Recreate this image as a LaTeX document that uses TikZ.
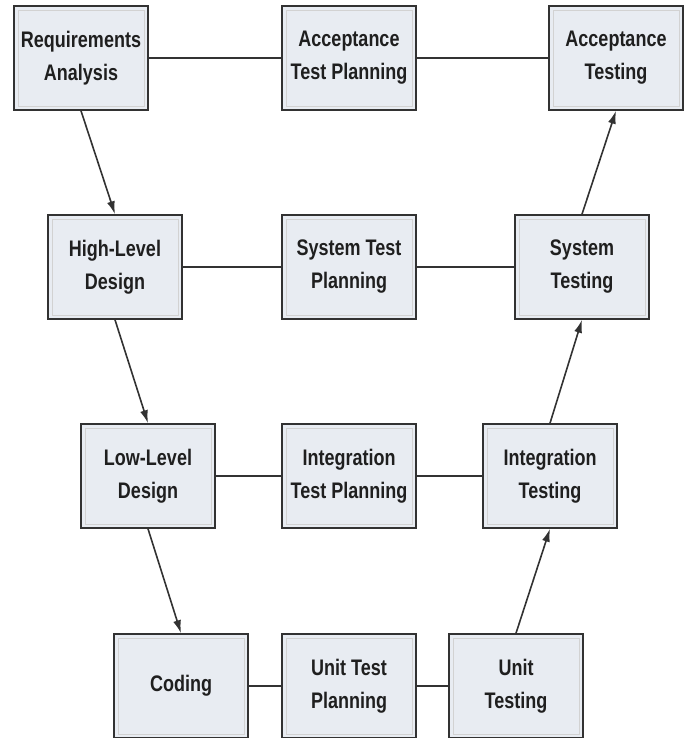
\documentclass[tikz,border=0pt]{standalone}
\usepackage{fontspec}
\newfontfamily\boxfont{Liberation Sans}[FakeStretch=0.8]
\usepackage{tikz}
\usetikzlibrary{arrows.meta,positioning}
\definecolor{boxfill}{RGB}{232,236,242}
\definecolor{boxline}{RGB}{50,50,50}

\begin{document}
\begin{tikzpicture}[x=1pt,y=-1pt,
    vbox/.style={draw=boxline,fill=boxfill,line width=1.6pt,
    minimum width=134pt,minimum height=104pt,inner sep=0pt,align=center,
    font=\boxfont\bfseries\fontsize{22.5}{33}\selectfont,text=black!88,
    path picture={\draw[gray!35,line width=0.8pt]
      ([shift={(4pt,-4pt)}]path picture bounding box.north west) rectangle
      ([shift={(-4pt,4pt)}]path picture bounding box.south east);}},
    conn/.style={draw=boxline,line width=1.6pt},
    flow/.style={conn,-{Latex[length=13pt,width=8pt]}}]
 \useasboundingbox (0,0) rectangle (692,738);
 \node[vbox] (RA) at (81,58) {Requirements\\Analysis};
 \node[vbox] (ATP) at (349,58) {Acceptance\\Test Planning};
 \node[vbox] (AT) at (616,58) {Acceptance\\Testing};
 \node[vbox] (HLD) at (115,267) {High-Level\\Design};
 \node[vbox] (STP) at (349,267) {System Test\\Planning};
 \node[vbox] (ST) at (582,267) {System\\Testing};
 \node[vbox] (LLD) at (148,476) {Low-Level\\Design};
 \node[vbox] (ITP) at (349,476) {Integration\\Test Planning};
 \node[vbox] (IT) at (550,476) {Integration\\Testing};
 \node[vbox] (COD) at (181,686) {Coding};
 \node[vbox] (UTP) at (349,686) {Unit Test\\Planning};
 \node[vbox] (UT) at (516,686) {Unit\\Testing};
 \path foreach \X/\Y in {RA/ATP,ATP/AT,HLD/STP,STP/ST,LLD/ITP,ITP/IT,COD/UTP,UTP/UT}
  {(\X) edge[conn] (\Y)};
 \path foreach \X/\Y in {RA/HLD,HLD/LLD,LLD/COD}
  {(\X.south) edge[flow] (\Y.north)};
 \path foreach \X/\Y in {UT/IT,IT/ST,ST/AT}
  {(\X.north) edge[flow] (\Y.south)};
\end{tikzpicture}
\end{document}
